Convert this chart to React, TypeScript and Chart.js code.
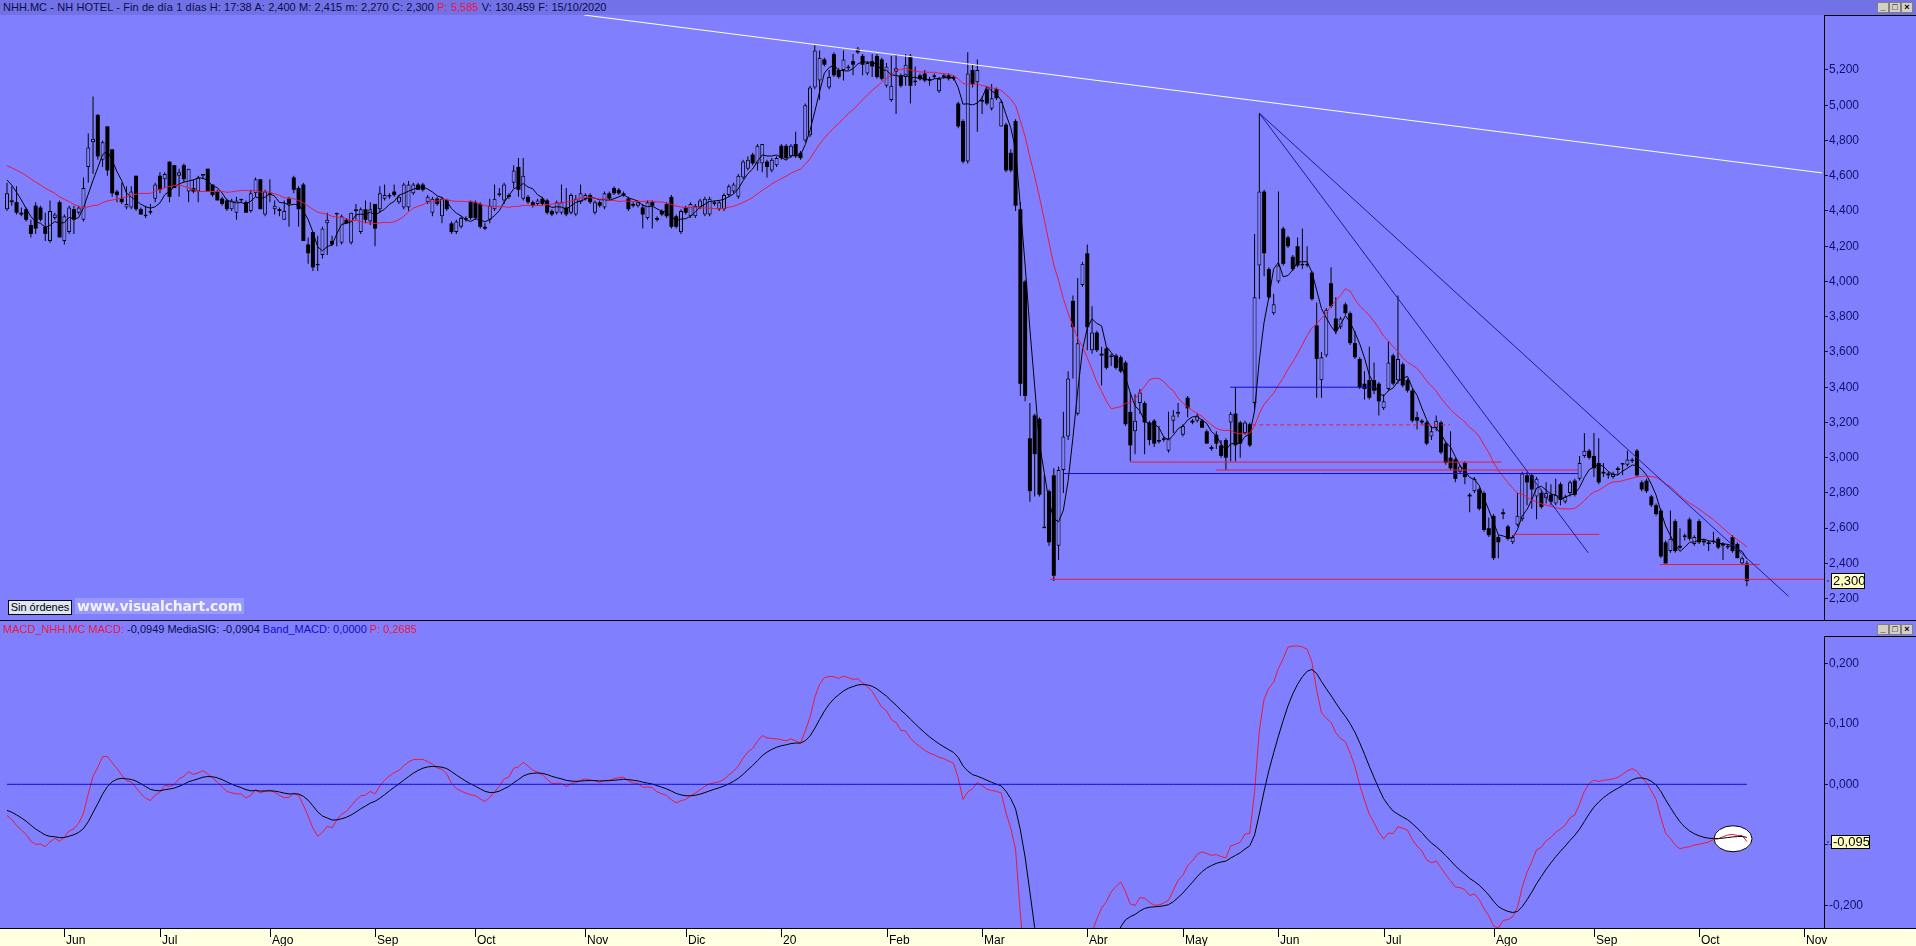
import React, { useEffect, useRef } from "react";
import { Chart, registerables } from "chart.js";
Chart.register(...registerables);

// ---------- DATA (NHH.MC daily, 16/05/2019 .. 15/10/2020) ----------
const opens = [
  4.41,4.46,4.45,4.39,4.41,4.32,4.43,4.42,4.31,4.23,
  4.36,4.45,4.23,4.28,4.41,4.39,4.35,4.65,4.79,4.945,
  4.69,4.88,4.75,4.51,4.47,4.42,4.42,4.60,4.41,4.37,
  4.39,4.47,4.60,4.58,4.68,4.66,4.60,4.66,4.51,4.53,
  4.51,4.60,4.64,4.55,4.51,4.47,4.46,4.41,4.39,4.46,
  4.45,4.40,4.50,4.58,4.38,4.50,4.41,4.41,4.35,4.47,
  4.59,4.53,4.55,4.21,4.28,4.09,4.15,4.33,4.23,4.38,
  4.22,4.35,4.22,4.40,4.28,4.41,4.34,4.44,4.41,4.47,
  4.48,4.51,4.45,4.42,4.42,4.50,4.55,4.55,4.45,4.39,
  4.47,4.37,4.46,4.33,4.28,4.31,4.35,4.45,4.45,4.44,
  4.31,4.35,4.41,4.49,4.46,4.49,4.56,4.65,4.47,4.48,
  4.45,4.44,4.47,4.46,4.40,4.39,4.39,4.42,4.39,4.38,
  4.45,4.47,4.49,4.39,4.45,4.42,4.50,4.53,4.52,4.50,
  4.47,4.44,4.43,4.42,4.36,4.45,4.36,4.40,4.44,4.48,
  4.37,4.28,4.42,4.37,4.37,4.42,4.38,4.38,4.44,4.41,
  4.41,4.49,4.51,4.48,4.59,4.64,4.72,4.67,4.67,4.68,
  4.63,4.66,4.77,4.77,4.71,4.78,4.73,4.80,4.83,5.10,
  5.14,5.26,5.10,5.29,5.20,5.20,5.21,5.25,5.32,5.28,
  5.18,5.25,5.28,5.26,5.11,5.03,5.19,5.17,5.16,5.28,
  5.13,5.17,5.18,5.14,5.16,5.08,5.16,5.17,5.16,5.01,
  4.91,4.68,5.20,5.13,5.02,5.09,4.98,5.09,4.88,4.89,
  4.73,4.91,4.41,4.00,3.11,3.24,3.22,2.60,2.81,2.90,
  2.50,2.93,3.12,3.89,3.25,3.98,4.16,3.61,3.71,3.59,
  3.62,3.57,3.58,3.57,3.54,3.26,3.15,3.31,3.31,3.20,
  3.21,3.09,3.10,3.04,3.21,3.25,3.13,3.34,3.21,3.21,
  3.21,3.15,3.06,3.13,3.07,3.10,3.20,3.25,3.20,3.14,
  3.19,3.31,4.09,4.51,4.07,3.82,4.00,4.30,4.25,4.14,
  4.20,4.09,4.09,4.05,3.75,3.44,3.58,3.99,3.79,3.74,
  3.87,3.82,3.65,3.56,3.42,3.44,3.44,3.42,3.28,3.39,
  3.58,3.44,3.53,3.44,3.38,3.23,3.21,3.20,3.12,3.17,
  3.20,3.08,3.00,2.99,2.92,2.97,2.79,2.81,2.82,2.80,
  2.60,2.67,2.55,2.69,2.61,2.52,2.62,2.65,2.90,2.90,
  2.78,2.80,2.77,2.79,2.74,2.85,2.75,2.80,2.87,2.88,
  3.01,3.04,3.01,2.97,2.92,2.91,2.89,2.94,2.96,2.96,
  2.98,3.04,2.86,2.87,2.78,2.73,2.70,2.52,2.47,2.64,
  2.50,2.55,2.65,2.51,2.64,2.53,2.52,2.52,2.54,2.50,
  2.49,2.55,2.51,2.40,2.40,
];
const highs = [
  4.56,4.54,4.54,4.42,4.42,4.35,4.45,4.43,4.39,4.46,
  4.39,4.46,4.38,4.43,4.43,4.43,4.59,4.84,5.05,4.95,
  4.80,4.88,4.75,4.52,4.56,4.54,4.54,4.60,4.42,4.43,
  4.44,4.56,4.62,4.62,4.68,4.66,4.64,4.67,4.64,4.58,
  4.60,4.61,4.64,4.55,4.52,4.48,4.47,4.47,4.48,4.47,
  4.46,4.52,4.59,4.58,4.52,4.58,4.46,4.42,4.46,4.48,
  4.60,4.54,4.56,4.25,4.28,4.26,4.31,4.39,4.26,4.39,
  4.38,4.36,4.39,4.44,4.42,4.46,4.45,4.44,4.54,4.55,
  4.50,4.55,4.49,4.56,4.57,4.56,4.56,4.56,4.49,4.48,
  4.48,4.48,4.47,4.34,4.35,4.37,4.37,4.46,4.46,4.45,
  4.33,4.47,4.55,4.53,4.56,4.50,4.66,4.70,4.70,4.49,
  4.46,4.47,4.48,4.47,4.41,4.46,4.55,4.53,4.50,4.49,
  4.55,4.50,4.50,4.46,4.46,4.51,4.51,4.54,4.53,4.51,
  4.48,4.45,4.46,4.44,4.46,4.46,4.37,4.41,4.45,4.49,
  4.38,4.41,4.43,4.45,4.44,4.47,4.48,4.48,4.46,4.46,
  4.50,4.55,4.56,4.61,4.69,4.71,4.73,4.78,4.78,4.69,
  4.70,4.71,4.78,4.78,4.78,4.85,4.74,5.01,5.11,5.34,
  5.31,5.27,5.20,5.30,5.21,5.31,5.23,5.29,5.33,5.29,
  5.25,5.29,5.29,5.27,5.24,5.28,5.29,5.18,5.29,5.29,
  5.22,5.18,5.20,5.16,5.18,5.16,5.18,5.18,5.17,5.02,
  4.92,5.30,5.23,5.26,5.05,5.10,5.12,5.10,5.03,4.90,
  4.75,4.92,4.45,4.01,3.31,3.25,3.23,2.90,2.82,2.94,
  2.95,3.26,3.49,3.92,4.02,4.11,4.21,3.86,3.72,3.63,
  3.63,3.59,3.59,3.58,3.55,3.37,3.36,3.39,3.32,3.21,
  3.22,3.18,3.12,3.26,3.27,3.31,3.19,3.35,3.22,3.25,
  3.22,3.16,3.07,3.15,3.10,3.11,3.26,3.40,3.21,3.21,
  3.20,4.27,4.955,4.52,4.08,3.93,4.51,4.31,4.26,4.15,
  4.25,4.30,4.20,4.06,3.88,3.60,3.85,4.08,3.91,3.80,
  3.88,3.83,3.72,3.57,3.49,3.63,3.54,3.43,3.36,3.66,
  3.59,3.92,3.54,3.45,3.39,3.26,3.22,3.21,3.18,3.24,
  3.21,3.09,3.15,3.00,2.96,2.98,2.80,2.89,2.83,2.81,
  2.66,2.68,2.56,2.71,2.62,2.56,2.80,2.92,2.92,2.91,
  2.89,2.82,2.86,2.85,2.88,2.86,2.79,2.87,2.88,3.01,
  3.14,3.05,3.14,3.11,2.97,2.92,2.92,2.95,2.97,3.04,
  3.00,3.05,2.87,2.88,2.79,2.74,2.71,2.53,2.70,2.65,
  2.60,2.57,2.66,2.56,2.65,2.54,2.53,2.58,2.55,2.52,
  2.51,2.56,2.52,2.44,2.415,
];
const lows = [
  4.40,4.43,4.38,4.37,4.34,4.25,4.27,4.34,4.23,4.22,
  4.35,4.25,4.21,4.27,4.27,4.38,4.34,4.56,4.61,4.69,
  4.65,4.60,4.48,4.45,4.44,4.41,4.41,4.40,4.38,4.36,
  4.38,4.45,4.50,4.53,4.45,4.53,4.48,4.56,4.45,4.50,
  4.45,4.58,4.51,4.48,4.46,4.43,4.40,4.40,4.35,4.45,
  4.39,4.39,4.48,4.41,4.37,4.45,4.38,4.37,4.35,4.31,
  4.50,4.31,4.23,4.10,4.06,4.06,4.13,4.15,4.20,4.20,
  4.21,4.33,4.21,4.35,4.27,4.33,4.32,4.20,4.39,4.46,
  4.47,4.48,4.44,4.41,4.40,4.49,4.52,4.51,4.44,4.37,
  4.43,4.33,4.40,4.27,4.27,4.30,4.34,4.35,4.35,4.30,
  4.29,4.33,4.40,4.48,4.44,4.47,4.53,4.48,4.46,4.44,
  4.42,4.43,4.43,4.38,4.37,4.38,4.38,4.37,4.38,4.37,
  4.44,4.46,4.44,4.38,4.42,4.41,4.46,4.49,4.49,4.48,
  4.40,4.42,4.42,4.30,4.35,4.30,4.34,4.37,4.36,4.30,
  4.30,4.27,4.38,4.36,4.36,4.41,4.37,4.37,4.43,4.40,
  4.40,4.48,4.50,4.47,4.58,4.63,4.66,4.63,4.62,4.59,
  4.62,4.65,4.69,4.69,4.70,4.70,4.69,4.79,4.82,5.09,
  5.03,5.22,5.09,5.16,5.15,5.14,5.20,5.17,5.29,5.17,
  5.17,5.16,5.15,5.14,5.10,5.02,4.95,5.10,5.11,5.01,
  5.11,5.14,5.13,5.11,5.15,5.07,5.15,5.14,5.14,4.87,
  4.67,4.67,5.10,4.85,4.95,5.00,4.97,5.03,4.88,4.62,
  4.62,4.40,3.35,3.32,2.75,2.78,2.78,2.60,2.50,2.30,
  2.42,2.80,3.10,3.45,3.24,3.97,3.61,3.59,3.60,3.41,
  3.50,3.52,3.50,3.48,3.18,2.98,3.02,3.25,3.02,3.07,
  3.06,3.08,3.09,3.03,3.14,3.23,3.12,3.23,3.19,3.20,
  3.17,3.08,3.04,3.05,3.00,2.93,2.98,2.98,3.00,3.13,
  3.06,3.27,3.90,4.03,3.90,3.81,3.99,4.09,4.19,4.06,
  4.08,4.07,4.08,3.89,3.34,3.34,3.57,3.85,3.70,3.73,
  3.81,3.64,3.56,3.39,3.33,3.33,3.36,3.24,3.27,3.38,
  3.41,3.42,3.40,3.37,3.20,3.16,3.19,3.07,3.10,3.15,
  3.02,2.96,2.93,2.86,2.91,2.85,2.69,2.80,2.70,2.58,
  2.55,2.42,2.43,2.65,2.53,2.51,2.61,2.64,2.73,2.71,
  2.65,2.71,2.74,2.73,2.73,2.73,2.74,2.78,2.78,2.87,
  3.00,2.99,2.89,2.85,2.89,2.88,2.88,2.90,2.90,2.95,
  2.97,2.89,2.81,2.80,2.72,2.67,2.43,2.40,2.46,2.46,
  2.48,2.53,2.53,2.50,2.51,2.50,2.47,2.51,2.48,2.42,
  2.48,2.46,2.43,2.39,2.27,
];
const closes = [
  4.50,4.45,4.39,4.38,4.35,4.27,4.30,4.35,4.27,4.40,
  4.38,4.25,4.37,4.42,4.35,4.42,4.53,4.76,4.81,4.71,
  4.79,4.63,4.50,4.49,4.45,4.44,4.51,4.41,4.38,4.38,
  4.40,4.55,4.52,4.61,4.48,4.53,4.62,4.58,4.64,4.51,
  4.59,4.61,4.51,4.49,4.46,4.44,4.41,4.46,4.46,4.47,
  4.39,4.50,4.58,4.41,4.51,4.49,4.43,4.40,4.40,4.44,
  4.52,4.41,4.23,4.16,4.08,4.10,4.30,4.35,4.21,4.39,
  4.37,4.33,4.39,4.41,4.41,4.35,4.41,4.30,4.50,4.49,
  4.49,4.49,4.48,4.55,4.55,4.55,4.52,4.52,4.48,4.47,
  4.44,4.47,4.41,4.28,4.34,4.36,4.36,4.36,4.36,4.31,
  4.30,4.43,4.47,4.50,4.55,4.48,4.63,4.52,4.60,4.45,
  4.43,4.46,4.44,4.39,4.38,4.45,4.45,4.38,4.49,4.47,
  4.50,4.49,4.45,4.45,4.43,4.50,4.47,4.50,4.50,4.49,
  4.41,4.43,4.45,4.38,4.45,4.43,4.35,4.38,4.37,4.31,
  4.31,4.40,4.39,4.44,4.43,4.46,4.47,4.47,4.45,4.45,
  4.49,4.54,4.55,4.60,4.68,4.69,4.67,4.77,4.78,4.65,
  4.69,4.70,4.70,4.70,4.77,4.71,4.70,5.00,5.10,5.31,
  5.27,5.23,5.16,5.17,5.16,5.26,5.22,5.23,5.30,5.23,
  5.24,5.22,5.16,5.15,5.22,5.11,5.21,5.11,5.23,5.11,
  5.14,5.15,5.14,5.15,5.17,5.15,5.17,5.15,5.15,4.88,
  4.68,5.18,5.12,5.20,5.03,5.01,5.04,5.04,5.02,4.63,
  4.63,4.43,3.42,3.35,2.81,3.02,2.79,2.61,2.52,2.33,
  2.93,3.12,3.45,3.74,3.65,4.10,3.74,3.71,3.61,3.58,
  3.51,3.58,3.51,3.49,3.19,3.07,3.21,3.37,3.20,3.10,
  3.08,3.10,3.11,3.11,3.24,3.26,3.18,3.28,3.20,3.24,
  3.17,3.08,3.05,3.08,3.01,3.00,3.25,3.07,3.08,3.20,
  3.07,3.91,4.51,4.16,3.91,3.87,4.09,4.10,4.20,4.07,
  4.09,4.10,4.10,3.90,3.56,3.57,3.84,3.86,3.72,3.79,
  3.82,3.65,3.57,3.40,3.39,3.34,3.38,3.32,3.32,3.54,
  3.42,3.56,3.41,3.38,3.21,3.21,3.20,3.08,3.15,3.21,
  3.03,2.97,2.94,2.88,2.95,2.89,2.78,2.88,2.71,2.59,
  2.56,2.43,2.52,2.68,2.54,2.55,2.67,2.91,2.86,2.82,
  2.88,2.72,2.80,2.75,2.79,2.76,2.78,2.86,2.79,2.97,
  3.04,3.00,2.94,2.86,2.91,2.90,2.91,2.93,2.97,2.99,
  2.99,2.90,2.82,2.81,2.73,2.68,2.44,2.40,2.54,2.47,
  2.49,2.56,2.54,2.55,2.52,2.52,2.51,2.53,2.49,2.51,
  2.50,2.47,2.43,2.43,2.30,
];

// month labels of the time axis and the index of each month's first session
const monthLabels = ["Jun","Jul","Ago","Sep","Oct","Nov","Dic","20","Feb","Mar","Abr","May","Jun","Jul","Ago","Sep","Oct","Nov"];
const monthStart = [12,32,55,77,98,121,142,162,184,204,226,246,266,288,311,332,354,376];

const priceTicks = [2.2,2.4,2.6,2.8,3.0,3.2,3.4,3.6,3.8,4.0,4.2,4.4,4.6,4.8,5.0,5.2];
const macdTicks = [0.2,0.1,0,-0.1,-0.2];

// indicator state carried in from sessions before the first visible one
const priorMean20 = 4.664;   // red 20-session average starts at ~4.655
const priorMean5 = 4.595;    // black 5-session average starts at ~4.576
const priorEma12 = 4.60, priorEma26 = 4.647, priorSignal = -0.041;

// drawn studies: [sessionIndex, price]
const whiteTrend = [[120.7,5.512],[379.7,4.616]];
const fallA = [[262,4.955],[330.8,2.46]];
const fallB = [[262,4.955],[372.7,2.214]];
// horizontal levels: [price, fromIndex, toIndex]
const redLevels = [[2.31,218.2,380.2],[2.975,234.9,312.7],[2.93,252.9,328.7],[2.565,315.1,333.1],[2.394,345.8,366.7]];
const blueLevels = [[2.91,220.9,328.7],[3.40,255.9,286.2]];
const dashedLevels = [[3.186,260.5,301.9]];
// MACD annotation mark: [sessionIndex, value]
const macdMark = [361.1,-0.09];
const macdLast = -0.0949;

// ---------- derived indicators ----------
const sma = (v: number[], n: number, prior: number) => v.map((_, i) => {
  let sum = 0;
  for (let k = i - n + 1; k <= i; k++) sum += k < 0 ? prior : v[k];
  return sum / n;
});
const ema = (v: number[], n: number, prior: number) => {
  const a = 2 / (n + 1); const out: number[] = [];
  v.forEach((x, i) => { const p = i === 0 ? prior : out[i - 1]; out.push(p + a * (x - p)); });
  return out;
};
const ma5 = sma(closes, 5, priorMean5);
const ma20 = sma(closes, 20, priorMean20);
const e12 = ema(closes, 12, priorEma12), e26 = ema(closes, 26, priorEma26);
const macd = e12.map((v, i) => v - e26[i]);
const signal = ema(macd, 9, priorSignal);

// ---------- styling ----------
const BG = "#8080ff";
const RED = "#e8183c";
const NAVY = "#1c1c90";
const BLUE = "#0a0ad0";
const X_MIN = -1.464, X_MAX = 380.13;
const AXIS_W = 92;
const FONT = '"Liberation Sans", Arial, sans-serif';
const fmt = (v: number) => v.toFixed(3).replace(".", ",");

const seg = (pts: number[][]) => pts.map(([x, y]) => ({ x, y }));
const lineDs = (data: any[], color: string, extra: any = {}) => ({
  type: "line", data, borderColor: color, borderWidth: 1, pointRadius: 0, tension: 0, order: 0, ...extra,
});

function PriceChart() {
  const ref = useRef<HTMLCanvasElement>(null);
  useEffect(() => {
    const up = (i: number) => closes[i] >= opens[i];
    const datasets: any[] = [
      lineDs(seg(whiteTrend), "#ffffff"),
      lineDs(seg(fallA), NAVY),
      lineDs(seg(fallB), NAVY),
      ...redLevels.map(([p, a, b]) => lineDs([{ x: a, y: p }, { x: b, y: p }], RED)),
      ...blueLevels.map(([p, a, b]) => lineDs([{ x: a, y: p }, { x: b, y: p }], BLUE)),
      ...dashedLevels.map(([p, a, b]) => lineDs([{ x: a, y: p }, { x: b, y: p }], RED, { borderDash: [4, 3] })),
      lineDs(closes.map((_, i) => ({ x: i, y: ma20[i] })), RED),
      lineDs(closes.map((_, i) => ({ x: i, y: ma5[i] })), "#000000"),
      {
        type: "bar", data: closes.map((_, i) => ({ x: i, y: [lows[i], highs[i]] })),
        backgroundColor: "#000", barThickness: 1, grouped: false, order: 3, inflateAmount: 0, borderWidth: 0,
      },
      {
        type: "bar", data: closes.map((c, i) => ({ x: i, y: [opens[i], c] })),
        backgroundColor: (c: any) => (c.dataIndex !== undefined && up(c.dataIndex) ? BG : "#000"),
        borderColor: "#000",
        borderWidth: (c: any) => (c.dataIndex !== undefined && up(c.dataIndex) ? 1 : 0),
        borderSkipped: false, barThickness: 4, grouped: false, order: 2, inflateAmount: 0,
      },
    ];
    const chart = new Chart(ref.current!, {
      type: "bar",
      data: { datasets },
      options: {
        animation: false, responsive: false, events: [],
        layout: { padding: 0 },
        plugins: { legend: { display: false }, tooltip: { enabled: false } },
        scales: {
          x: { type: "linear", min: X_MIN, max: X_MAX, display: false, offset: false, grid: { offset: false } },
          y: {
            type: "linear", position: "right", min: 2.079, max: 5.512,
            afterBuildTicks: (s: any) => { s.ticks = priceTicks.map((v) => ({ value: v })); },
            afterFit: (s: any) => { s.width = AXIS_W; s.paddingTop = 0; s.paddingBottom = 0; },
            ticks: { callback: (v: any) => fmt(Number(v)), color: "#10106c", font: { family: FONT, size: 12 }, padding: 1 },
            grid: { drawOnChartArea: false, drawTicks: true, tickLength: 4, color: "#10106c" },
            border: { display: true, color: "#000", width: 1 },
          },
        },
      } as any,
      plugins: [{
        id: "decor",
        afterDraw(ch: any) {
          const ctx = ch.ctx; const a = ch.chartArea;
          ctx.save();
          ctx.strokeStyle = "#000"; ctx.lineWidth = 1;
          ctx.beginPath(); ctx.moveTo(a.right, 0.5); ctx.lineTo(ch.width, 0.5); ctx.stroke();
          const y = ch.scales.y.getPixelForValue(closes[closes.length - 1]);
          ctx.fillStyle = "#50508a"; ctx.fillRect(a.right + 3, Math.round(y) - 1, 2, 2);
          ctx.fillStyle = "#ffffc4"; ctx.fillRect(a.right + 7.5, Math.round(y) - 7.5, 33, 15);
          ctx.strokeRect(a.right + 7.5, Math.round(y) - 7.5, 33, 15);
          ctx.fillStyle = "#000"; ctx.font = `13px ${FONT}`; ctx.textBaseline = "middle";
          ctx.fillText(fmt(closes[closes.length - 1]), a.right + 9, Math.round(y) + 0.5);
          ctx.restore();
        },
      }],
    });
    return () => chart.destroy();
  }, []);
  return <canvas ref={ref} width={1916} height={605} style={{ position: "absolute", left: 0, top: 15, width: 1916, height: 605 }} />;
}

function MacdChart() {
  const ref = useRef<HTMLCanvasElement>(null);
  useEffect(() => {
    const datasets: any[] = [
      lineDs(closes.map((_, i) => ({ x: i, y: 0 })), BLUE),
      lineDs(closes.map((_, i) => ({ x: i, y: signal[i] })), "#000000"),
      lineDs(closes.map((_, i) => ({ x: i, y: macd[i] })), RED),
    ];
    const chart = new Chart(ref.current!, {
      type: "line",
      data: { datasets },
      options: {
        animation: false, responsive: false, events: [],
        layout: { padding: { bottom: 18 } },
        plugins: { legend: { display: false }, tooltip: { enabled: false } },
        scales: {
          x: { type: "linear", min: X_MIN, max: X_MAX, display: false, offset: false },
          y: {
            type: "linear", position: "right", min: -0.2375, max: 0.2451,
            afterBuildTicks: (s: any) => { s.ticks = macdTicks.map((v) => ({ value: v })); },
            afterFit: (s: any) => { s.width = AXIS_W; s.paddingTop = 0; s.paddingBottom = 0; },
            ticks: { callback: (v: any) => fmt(Number(v)), color: "#10106c", font: { family: FONT, size: 12 }, padding: 1 },
            grid: { drawOnChartArea: false, drawTicks: true, tickLength: 4, color: "#10106c" },
            border: { display: true, color: "#000", width: 1 },
          },
        },
      } as any,
      plugins: [{
        id: "macdDecor",
        beforeDatasetsDraw(ch: any) {
          const ctx = ch.ctx;
          const cx = ch.scales.x.getPixelForValue(macdMark[0]);
          const cy = ch.scales.y.getPixelForValue(macdMark[1]);
          ctx.save();
          ctx.beginPath(); ctx.ellipse(cx, cy, 19, 13, 0, 0, Math.PI * 2);
          ctx.fillStyle = "#ffffff"; ctx.fill();
          ctx.strokeStyle = "#000"; ctx.lineWidth = 1; ctx.stroke();
          ctx.restore();
        },
        afterDraw(ch: any) {
          const ctx = ch.ctx; const a = ch.chartArea; const W = ch.width; const H = ch.height;
          ctx.save();
          ctx.strokeStyle = "#000"; ctx.lineWidth = 1;
          ctx.beginPath(); ctx.moveTo(a.right, 0.5); ctx.lineTo(W, 0.5); ctx.stroke();
          // value tag
          const y = Math.round(ch.scales.y.getPixelForValue(macdLast));
          ctx.fillStyle = "#50508a"; ctx.fillRect(a.right + 3, y - 1, 2, 2);
          ctx.fillStyle = "#ffffc4"; ctx.fillRect(a.right + 7.5, y - 6.5, 38, 13);
          ctx.strokeRect(a.right + 7.5, y - 6.5, 38, 13);
          ctx.fillStyle = "#000"; ctx.font = `13px ${FONT}`; ctx.textBaseline = "middle";
          ctx.fillText(fmt(macdLast), a.right + 9, y + 0.5);
          // time axis strip
          const top = a.bottom;
          ctx.fillStyle = "#ffffe1"; ctx.fillRect(0, top, W, H - top);
          ctx.beginPath(); ctx.moveTo(0, top + 0.5); ctx.lineTo(W, top + 0.5); ctx.stroke();
          ctx.font = `12px ${FONT}`; ctx.textBaseline = "alphabetic"; ctx.fillStyle = "#000";
          monthStart.forEach((idx, k) => {
            const x = Math.round(ch.scales.x.getPixelForValue(idx)) + 0.5;
            ctx.beginPath(); ctx.moveTo(x, top + 1); ctx.lineTo(x, top + 9); ctx.stroke();
            ctx.fillText(monthLabels[k], x + 1.5, H - 2);
          });
          ctx.restore();
        },
      }],
    });
    return () => chart.destroy();
  }, []);
  return <canvas ref={ref} width={1916} height={310} style={{ position: "absolute", left: 0, top: 636, width: 1916, height: 310 }} />;
}

function WinButtons({ top }: { top: number }) {
  const b: React.CSSProperties = {
    position: "absolute", top, width: 10, height: 9, background: "#d4d0c8", border: "1px solid #808080",
    font: `bold 9px ${FONT}`, lineHeight: "9px", textAlign: "center", color: "#000",
  };
  return (
    <>
      <div style={{ ...b, left: 1877 }}>_</div>
      <div style={{ ...b, left: 1889 }}>□</div>
      <div style={{ ...b, left: 1901 }}>×</div>
    </>
  );
}

export default function App() {
  useEffect(() => { document.body.style.margin = "0"; }, []);
  const hdr: React.CSSProperties = { font: `11px ${FONT}`, whiteSpace: "pre", position: "absolute", left: 3 };
  return (
    <div style={{ position: "fixed", left: 0, top: 0, width: 1916, height: 946, background: BG, overflow: "hidden" }}>
      <div style={{ position: "absolute", left: 0, top: 0, width: 1916, height: 15, background: "#7272e6" }} />
      <div style={{ ...hdr, top: 1, color: "#0c0c48", wordSpacing: "0.3px" }}>
        {"NHH.MC - NH HOTEL - Fin de día 1 días H: 17:38 A: 2,400 M: 2,415 m: 2,270 C: 2,300 "}
        <span style={{ color: "#f0103c" }}>{"P: 5,585"}</span>
        {" V: 130.459 F: 15/10/2020"}
      </div>
      <WinButtons top={2} />
      <PriceChart />
      <div style={{ position: "absolute", left: 0, top: 620, width: 1916, height: 1, background: "#000" }} />
      <div style={{ ...hdr, top: 623 }}>
        <span style={{ color: "#e8183c" }}>{"MACD_NHH.MC MACD: "}</span>
        <span style={{ color: "#0c0c48" }}>{"-0,0949 MediaSIG: -0,0904 "}</span>
        <span style={{ color: "#1010c0" }}>{"Band_MACD: 0,0000 "}</span>
        <span style={{ color: "#e8183c" }}>{"P: 0,2685"}</span>
      </div>
      <WinButtons top={624} />
      <MacdChart />
      <div style={{
        position: "absolute", left: 8, top: 600, width: 62, height: 13, border: "1px solid #000", background: "#dde6f2",
        font: `11px ${FONT}`, lineHeight: "13px", textAlign: "center", color: "#000",
      }}>Sin órdenes</div>
      <div style={{
        position: "absolute", left: 75, top: 598, font: `bold 14px "DejaVu Sans", Verdana, sans-serif`,
        color: "#f2f2ff", letterSpacing: "-0.2px", background: "rgba(200,200,240,0.35)", padding: "0 2px",
      }}>www.visualchart.com</div>
    </div>
  );
}
